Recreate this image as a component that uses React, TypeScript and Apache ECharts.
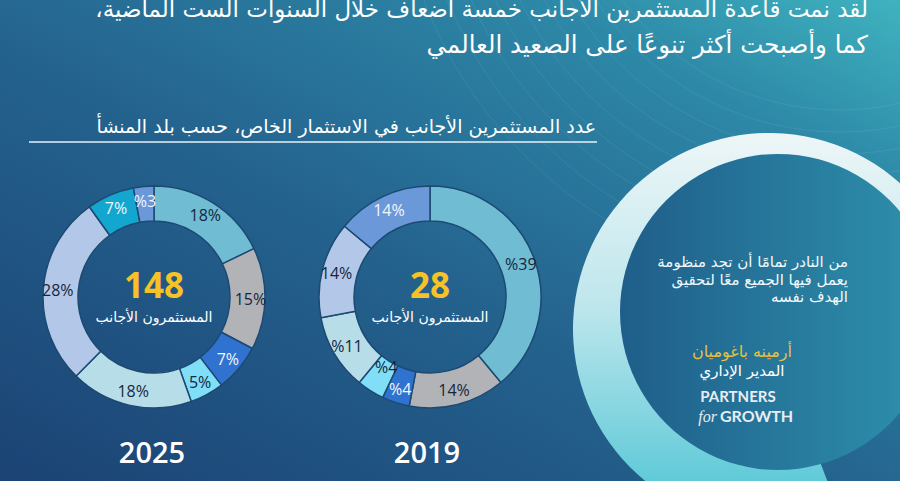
import React, { useEffect, useRef } from "react";
import * as echarts from "echarts";

// ---- Data ----
const titleLines = [
  "لقد نمت قاعدة المستثمرين الأجانب خمسة أضعاف خلال السنوات الست الماضية،\u200F",
  "كما وأصبحت أكثر تنوعًا على الصعيد العالمي",
];
const subtitle = "عدد المستثمرين الأجانب في الاستثمار الخاص، حسب بلد المنشأ";
const centerLabel = "المستثمرون الأجانب";

const years = ["2025", "2019"];
const totals = ["148", "28"];

const values2025 = [18, 15, 7, 5, 18, 28, 7, 3];
const labels2025 = ["18%", "15%", "7%", "5%", "18%", "28%", "7%", "%3"];
const colorKeys2025 = ["teal", "grey", "blue", "lightCyan", "pale", "lavender", "cyan", "medBlue"];

const values2019 = [39, 14, 4, 4, 11, 14, 14];
const labels2019 = ["%39", "14%", "%4", "%4", "%11", "14%", "14%"];
const colorKeys2019 = ["teal", "grey", "blue", "lightCyan", "pale", "lavender", "medBlue"];

const quoteLines = [
  "من النادر تمامًا أن تجد منظومة",
  "يعمل فيها الجميع معًا لتحقيق",
  "الهدف نفسه",
];
const quoteName = "أرمينه باغوميان";
const quoteRole = "المدير الإداري";

// ---- Styles ----
const palette: Record<string, string> = {
  teal: "#70bcd3",
  grey: "#b2b3b7",
  blue: "#2f72cf",
  lightCyan: "#80def6",
  pale: "#b6dde8",
  lavender: "#b3c8e9",
  cyan: "#13a6cf",
  medBlue: "#6b98d8",
};
const lightLabel: Record<string, boolean> = { blue: true, cyan: true, medBlue: true };

const AR = "'DejaVu Sans', 'Noto Sans', sans-serif";
const NUM = "'Open Sans', 'Noto Sans', sans-serif";

function buildData(values: number[], keys: string[], labels: string[]) {
  return values.map((v, i) => ({
    value: v,
    name: labels[i] + "-" + i,
    itemStyle: { color: palette[keys[i]] },
    label: {
      formatter: labels[i],
      color: lightLabel[keys[i]] ? "#f2f7fc" : "#16263d",
    },
  }));
}

export default function App() {
  const ref = useRef<HTMLDivElement>(null);
  useEffect(() => {
    if (!ref.current) return;
    const chart = echarts.init(ref.current, undefined, { renderer: "svg" });

    const decoArcs: any[] = [];
    for (let i = 0; i < 9; i++) {
      decoArcs.push({
        type: "arc",
        z: -5,
        shape: { cx: 840, cy: -160, r: 270 + i * 22, startAngle: Math.PI * 0.35, endAngle: Math.PI * 0.95 },
        style: { stroke: "rgba(255,255,255,0.07)", lineWidth: 1, fill: null },
      });
    }

    const pieCommon = {
      type: "pie",
      radius: [76, 111],
      startAngle: 90,
      clockwise: true,
      avoidLabelOverlap: false,
      silent: true,
      itemStyle: { borderColor: "#1c4a72", borderWidth: 1.5 },
      label: { show: true, position: "inside", fontSize: 16, fontFamily: NUM },
      labelLine: { show: false },
      emphasis: { disabled: true },
    };

    chart.setOption({
      animation: false,
      graphic: [
        {
          type: "rect",
          z: -10,
          shape: { x: 0, y: 0, width: 900, height: 481 },
          style: {
            fill: new echarts.graphic.LinearGradient(0, 1, 1, 0, [
              { offset: 0, color: "#1b4374" },
              { offset: 0.45, color: "#24628e" },
              { offset: 0.8, color: "#2d88a7" },
              { offset: 1, color: "#3fb3bf" },
            ]),
          },
        },
        ...decoArcs,
        // ring
        {
          type: "sector",
          z: -4,
          shape: { cx: 769, cy: 329, r: 196, r0: 0, startAngle: (69 * Math.PI) / 180, endAngle: (372 * Math.PI) / 180, clockwise: true },
          style: {
            fill: new echarts.graphic.LinearGradient(0, 0, 0, 1, [
              { offset: 0, color: "#eef6f7" },
              { offset: 0.45, color: "#bce6ec" },
              { offset: 1, color: "#49c3d3" },
            ]),
          },
        },
        {
          type: "circle",
          z: -3,
          shape: { cx: 778, cy: 312, r: 158 },
          style: {
            fill: new echarts.graphic.LinearGradient(0, 0, 1, 0, [
              { offset: 0, color: "#1f5e8a" },
              { offset: 1, color: "#2e92ad" },
            ]),
          },
        },
        // title
        ...titleLines.map((t, i) => ({
          type: "text",
          z: 5,
          style: {
            text: t, x: 868, y: 9 + i * 35, align: "right", verticalAlign: "middle",
            fill: "#ffffff", fontSize: i === 0 ? 23 : 24.5, fontFamily: AR,
          },
        })),
        {
          type: "text", z: 5,
          style: { text: subtitle, x: 596, y: 126, align: "right", verticalAlign: "middle", fill: "#ffffff", fontSize: 19, fontFamily: AR },
        },
        {
          type: "line", z: 5,
          shape: { x1: 29, y1: 142, x2: 597, y2: 142 },
          style: { stroke: "#e6f2f8", lineWidth: 1.5 },
        },
        // centers
        ...[154, 430].map((cx, i) => ({
          type: "text", z: 5,
          style: { text: totals[i], x: cx, y: 284, align: "center", verticalAlign: "middle", fill: "#f6c226", fontSize: 35, fontWeight: "bold", fontFamily: NUM },
        })),
        ...[154, 430].map((cx) => ({
          type: "text", z: 5,
          style: { text: centerLabel, x: cx, y: 317, align: "center", verticalAlign: "middle", fill: "#ffffff", fontSize: 14, fontFamily: AR },
        })),
        ...[152, 427].map((cx, i) => ({
          type: "text", z: 5,
          style: { text: years[i], x: cx, y: 451, align: "center", verticalAlign: "middle", fill: "#ffffff", fontSize: 29, fontWeight: 600, fontFamily: NUM },
        })),
        // quote
        ...quoteLines.map((t, i) => ({
          type: "text", z: 5,
          style: { text: t, x: 848, y: 262 + i * 17.5, align: "right", verticalAlign: "middle", fill: "#f2f8fb", fontSize: 15, fontFamily: AR },
        })),
        {
          type: "text", z: 5,
          style: { text: quoteName, x: 742, y: 351, align: "center", verticalAlign: "middle", fill: "#e4c23e", fontSize: 16, fontFamily: AR },
        },
        {
          type: "text", z: 5,
          style: { text: quoteRole, x: 742, y: 371, align: "center", verticalAlign: "middle", fill: "#ffffff", fontSize: 15, fontFamily: AR },
        },
        {
          type: "text", z: 5,
          style: { text: "PARTNERS", x: 738, y: 396, align: "center", verticalAlign: "middle", fill: "#e8eef5", fontSize: 15, fontWeight: "bold", fontFamily: "'Lato', sans-serif" },
        },
        {
          type: "text", z: 5,
          style: { text: "for", x: 717, y: 416, align: "right", verticalAlign: "middle", fill: "#e8eef5", fontSize: 16, fontStyle: "italic", fontFamily: "'Liberation Serif', serif" },
        },
        {
          type: "text", z: 5,
          style: { text: "GROWTH", x: 720, y: 415, align: "left", verticalAlign: "middle", fill: "#e8eef5", fontSize: 16, fontWeight: "bold", fontFamily: "'Lato', sans-serif" },
        },
      ],
      series: [
        {
          ...pieCommon,
          center: [154, 297],
          labelLayout: { hideOverlap: false },
          data: buildData(values2025, colorKeys2025, labels2025),
        },
        {
          ...pieCommon,
          center: [430, 297],
          labelLayout: (p: any) => (p.dataIndex === 3 ? { dx: 8, dy: -11, hideOverlap: false } : { hideOverlap: false }),
          data: buildData(values2019, colorKeys2019, labels2019),
        },
      ],
    });
    return () => chart.dispose();
  }, []);
  return <div ref={ref} style={{ position: "absolute", left: 0, top: 0, width: 900, height: 481 }} />;
}
